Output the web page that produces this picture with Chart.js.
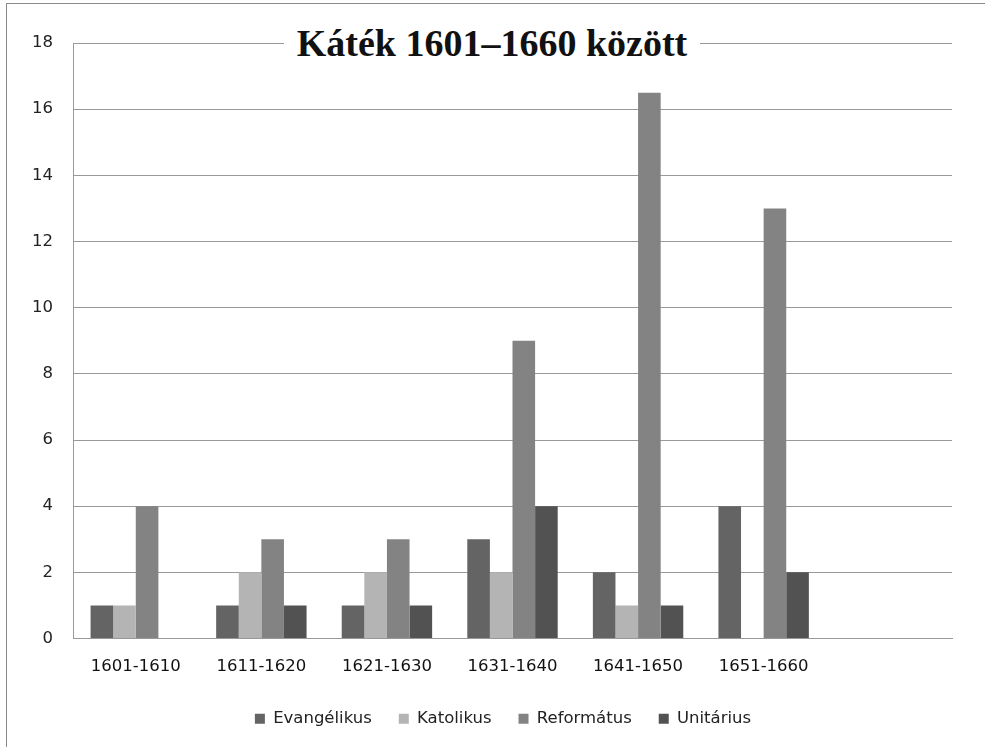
<!DOCTYPE html>
<html>
<head>
<meta charset="utf-8">
<script src="https://cdn.jsdelivr.net/npm/chart.js@4"></script>
<style>
  body { margin: 0; background: #fff; }
  #wrap { position: relative; width: 985px; height: 747px; }
  #frame { position: absolute; left: 6px; top: 3px; right: 0; bottom: 0;
           border-top: 1px solid #8a8a8a; border-left: 1px solid #8a8a8a; pointer-events: none; }
  #title { position: absolute; left: 284px; width: 416px; top: 20px; height: 46px; line-height: 46px;
           text-align: center; background: #fff; font-family: "Liberation Serif", serif;
           font-weight: bold; font-size: 38px; color: #111; letter-spacing: 0px; }
</style>
</head>
<body>
<div id="wrap">
  <canvas id="myChart" width="985" height="747"></canvas>
  <div id="frame"></div>
  <div id="title">Káték 1601–1660 között</div>
</div>
<script>
// decades, last slot is left empty like in the original
const categories = ['1601-1610', '1611-1620', '1621-1630', '1631-1640', '1641-1650', '1651-1660', ''];
const evangelikus = [1, 1, 1, 3, 2, 4];
const katolikus = [1, 2, 2, 2, 1, 0];
const reformatus = [4, 3, 3, 9, 16.5, 13];
const unitarius = [0, 1, 1, 4, 1, 2];
const yTicks = [0, 2, 4, 6, 8, 10, 12, 14, 16, 18];

const font = { family: 'DejaVu Sans', size: 16.5 };

// legend in the original sits a bit right of the plot centre
const legendShift = {
    id: 'legendShift',
    afterUpdate(chart) {
        chart.legend.left += 27;
        chart.legend.right += 27;
    }
};

const ctx = document.getElementById('myChart').getContext('2d');
const myChart = new Chart(ctx, {
    type: 'bar',
    data: {
        labels: categories,
        datasets: [
            { label: 'Evangélikus', data: evangelikus, backgroundColor: '#646464' },
            { label: 'Katolikus', data: katolikus, backgroundColor: '#b4b4b4' },
            { label: 'Református', data: reformatus, backgroundColor: '#838383' },
            { label: 'Unitárius', data: unitarius, backgroundColor: '#525252' }
        ]
    },
    options: {
        responsive: false,
        animation: false,
        layout: { padding: { top: 43, right: 33, bottom: 10, left: 0 } },
        datasets: { bar: { categoryPercentage: 0.72, barPercentage: 1 } },
        plugins: {
            title: { display: false },
            tooltip: { enabled: false },
            legend: {
                position: 'bottom',
                labels: { boxWidth: 10, boxHeight: 10, padding: 27, color: '#222', font: font }
            }
        },
        scales: {
            x: {
                grid: { display: false },
                border: { color: '#999' },
                ticks: { color: '#111', font: font, padding: 10, maxRotation: 0 },
                afterFit: scale => { scale.height = 45; }
            },
            y: {
                min: 0,
                max: 18,
                afterBuildTicks: scale => { scale.ticks = yTicks.map(v => ({ value: v })); },
                grid: { color: '#999', drawTicks: false },
                border: { color: '#999' },
                ticks: { color: '#222', font: font, padding: 20 },
                afterFit: scale => { scale.width = 73; }
            }
        }
    },
    plugins: [legendShift]
});
</script>
</body>
</html>
